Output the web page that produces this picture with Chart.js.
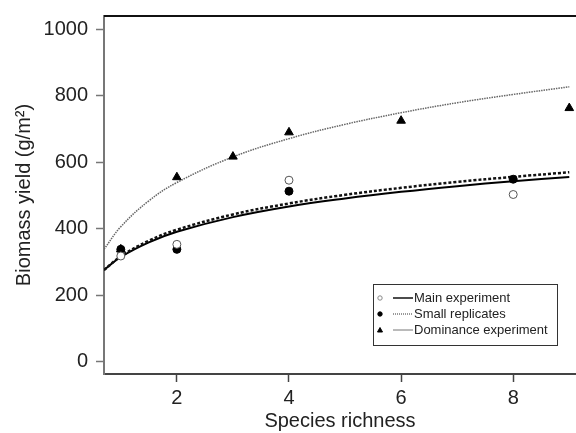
<!DOCTYPE html>
<html>
<head>
<meta charset="utf-8">
<script src="https://cdn.jsdelivr.net/npm/chart.js@4/dist/chart.umd.min.js"></script>
<style>
  html, body { margin: 0; padding: 0; background: #fff; }
  #wrap { width: 576px; height: 433px; }
</style>
</head>
<body>
<div id="wrap"><canvas id="chart" width="576" height="433"></canvas></div>
<script>
// Measured points
const richness = [1, 2, 4, 8];
const mainYield = [318, 353, 546, 503];
const smallYield = [338, 338, 513, 549];
const domRichness = [1, 2, 3, 4, 6, 9];
const domYield = [338, 555, 617, 690, 725, 763];

// Fitted curves
const curveX = [0.7, 1, 1.5, 2, 3, 4, 5, 6, 7, 8, 9];
const mainFit = [276, 315, 359, 391, 435, 467, 491, 511, 528, 543, 556];
const smallFit = [276, 317, 364, 397, 443, 476, 502, 523, 541, 556, 570];
const domFit = [338, 406, 484, 539, 616, 671, 714, 749, 779, 804, 827];

const xTicks = [2, 4, 6, 8];
const yTicks = [0, 200, 400, 600, 800, 1000];

const labels = ['Main experiment', 'Small replicates', 'Dominance experiment'];

const FONT = "'Liberation Sans', Arial, sans-serif";

function pts(xs, ys) {
    return xs.map((x, i) => ({ x: x, y: ys[i] }));
}

// Legend styles (marker + line sample)
const legendStyle = [
    { marker: 'circle', fill: '#fff', stroke: '#888', dash: [], color: '#111', width: 1.5 },
    { marker: 'circle', fill: '#000', stroke: '#000', dash: [1, 1], color: '#333', width: 1 },
    { marker: 'triangle', fill: '#000', stroke: '#000', dash: [], color: '#777', width: 1 }
];

const boxLegend = {
    id: 'boxLegend',
    afterDraw(chart) {
        const ctx = chart.ctx;
        const bx = 373, by = 284, bw = 184, bh = 61;
        ctx.save();
        ctx.strokeStyle = '#333';
        ctx.lineWidth = 1;
        ctx.strokeRect(bx + 0.5, by + 0.5, bw, bh);
        ctx.font = '13px ' + FONT;
        ctx.textBaseline = 'middle';
        labels.forEach((text, i) => {
            const s = legendStyle[i];
            const y = by + 14 + i * 16;
            // marker
            ctx.setLineDash([]);
            ctx.lineWidth = 1;
            ctx.fillStyle = s.fill;
            ctx.strokeStyle = s.stroke;
            ctx.beginPath();
            if (s.marker === 'circle') {
                ctx.arc(380, y, 2.2, 0, Math.PI * 2);
            } else {
                ctx.moveTo(380, y - 2.5);
                ctx.lineTo(382.5, y + 2);
                ctx.lineTo(377.5, y + 2);
                ctx.closePath();
            }
            ctx.fill();
            ctx.stroke();
            // line sample
            ctx.beginPath();
            ctx.setLineDash(s.dash);
            ctx.strokeStyle = s.color;
            ctx.lineWidth = s.width;
            ctx.moveTo(393, y);
            ctx.lineTo(413, y);
            ctx.stroke();
            ctx.setLineDash([]);
            ctx.fillStyle = '#222';
            ctx.fillText(text, 414, y);
        });
        ctx.restore();
    }
};

const topLine = {
    id: 'topLine',
    afterDraw(chart) {
        const a = chart.chartArea;
        const ctx = chart.ctx;
        ctx.save();
        ctx.strokeStyle = '#111';
        ctx.lineWidth = 2;
        ctx.beginPath();
        ctx.moveTo(a.left, a.top);
        ctx.lineTo(a.right, a.top);
        ctx.stroke();
        ctx.restore();
    }
};

new Chart(document.getElementById('chart'), {
    type: 'scatter',
    data: {
        datasets: [
            {
                label: labels[0], data: pts(richness, mainYield), order: 0,
                pointStyle: 'circle', pointRadius: 4, borderColor: '#555',
                backgroundColor: '#fff', borderWidth: 1
            },
            {
                label: labels[1], data: pts(richness, smallYield), order: 0,
                pointStyle: 'circle', pointRadius: 4, borderColor: '#000',
                backgroundColor: '#000', borderWidth: 1
            },
            {
                label: labels[2], data: pts(domRichness, domYield), order: 0,
                pointStyle: 'triangle', pointRadius: 5, borderColor: '#000',
                backgroundColor: '#000', borderWidth: 1
            },
            {
                label: labels[2] + ' fit', data: pts(curveX, domFit), order: 1,
                showLine: true, pointRadius: 0, tension: 0.4,
                borderColor: '#666', borderWidth: 1.5, borderDash: [1.5, 1]
            },
            {
                label: labels[1] + ' fit', data: pts(curveX, smallFit), order: 1,
                showLine: true, pointRadius: 0, tension: 0.4,
                borderColor: '#111', borderWidth: 2.5, borderDash: [3, 2]
            },
            {
                label: labels[0] + ' fit', data: pts(curveX, mainFit), order: 1,
                showLine: true, pointRadius: 0, tension: 0.4,
                borderColor: '#000', borderWidth: 2
            }
        ]
    },
    options: {
        responsive: false,
        animation: false,
        layout: { autoPadding: false, padding: { top: 16, right: 0, left: 0, bottom: 0 } },
        plugins: { legend: { display: false }, tooltip: { enabled: false } },
        scales: {
            x: {
                type: 'linear', min: 0.7, max: 9.12,
                afterBuildTicks: s => { s.ticks = xTicks.map(v => ({ value: v })); },
                afterFit: s => { s.height = 59; s.paddingLeft = 0; s.paddingRight = 0; },
                grid: { drawOnChartArea: false, tickLength: 8, tickColor: '#444', tickWidth: 1.5 },
                border: { color: '#444', width: 2 },
                ticks: { color: '#222', font: { family: FONT, size: 20 }, padding: 4, maxRotation: 0,
                    callback: v => String(v) },
                title: { display: true, text: 'Species richness', color: '#222',
                    font: { family: FONT, size: 20 }, padding: { top: 0, bottom: 0 } }
            },
            y: {
                type: 'linear', min: -37, max: 1040,
                afterBuildTicks: s => { s.ticks = yTicks.map(v => ({ value: v })); },
                afterFit: s => { s.width = 104; s.paddingTop = 0; s.paddingBottom = 0; },
                grid: { drawOnChartArea: false, tickLength: 8, tickColor: '#777', tickWidth: 1.5 },
                border: { color: '#777', width: 2 },
                ticks: { color: '#222', font: { family: FONT, size: 20 }, padding: 8,
                    callback: v => String(v) },
                title: { display: true, text: 'Biomass yield (g/m²)', color: '#222',
                    font: { family: FONT, size: 20 }, padding: { top: 12, bottom: 0 } }
            }
        }
    },
    plugins: [topLine, boxLegend]
});
</script>
</body>
</html>
